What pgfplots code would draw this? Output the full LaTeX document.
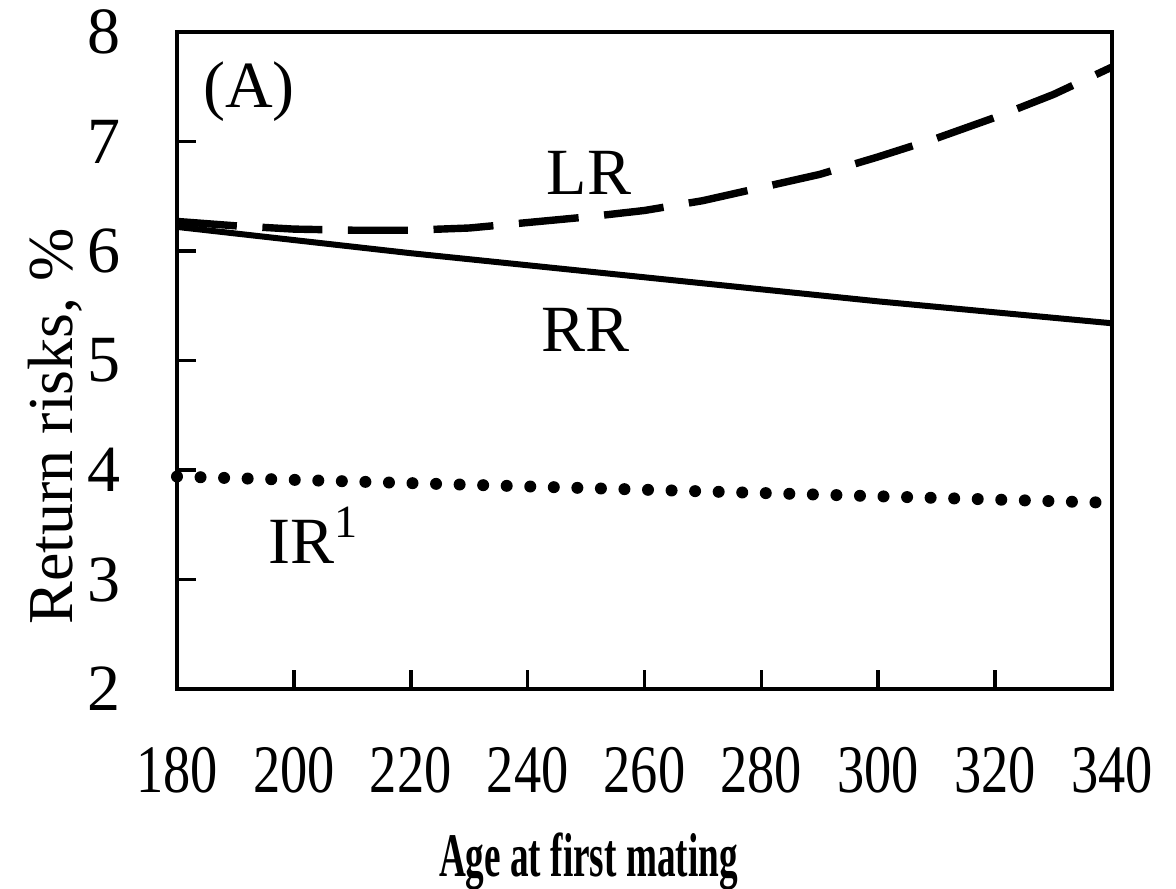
\documentclass[border=0pt]{standalone}
\usepackage{fontspec}
\setmainfont{Liberation Serif}
\newfontfamily\tickfont[FakeStretch=0.8]{Liberation Serif}
\newfontfamily\titlefont[FakeStretch=0.6]{Liberation Serif}
\usepackage{pgfplots}
\usepackage{pgfplotstable}
\pgfplotsset{compat=1.18}

% Return risks (%) against age at first mating (days)
\pgfplotstableread{
age  lr
180  6.27
190  6.23
200  6.20
210  6.19
220  6.19
230  6.21
240  6.26
250  6.31
260  6.37
270  6.46
280  6.58
290  6.70
300  6.86
310  7.03
320  7.22
330  7.43
340  7.68
}\lrdata

\pgfplotstableread{
age  rr
180  6.22
200  6.10
220  5.98
240  5.87
260  5.76
280  5.65
300  5.54
320  5.44
340  5.34
}\rrdata

\pgfplotstableread{
age  ir
180  3.94
340  3.70
}\irdata

\newcommand\lab{\fontsize{16.5}{18}\selectfont}

\begin{document}
\begin{tikzpicture}
\begin{axis}[
  scale only axis,
  width=233.75pt, height=164.25pt,
  xmin=180, xmax=340, ymin=2, ymax=8,
  xtick={180,200,...,340}, ytick={2,3,...,8},
  xtick pos=bottom, ytick pos=left, tick align=inside,
  major tick length=4.75pt,
  axis line style={line width=0.9pt},
  tick style={line width=0.9pt, black},
  /pgf/number format/assume math mode=true,
  /pgf/number format/1000 sep={},
  xticklabel style={font=\tickfont\fontsize{17}{17}\selectfont, anchor=center, yshift=-20.25pt},
  yticklabel style={font=\fontsize{16.5}{16.5}\selectfont, anchor=east, inner sep=0pt, xshift=-14pt},
  ylabel={Return risks, \%},
  ylabel style={font=\fontsize{16}{16}\selectfont, at={(axis description cs:-0.13,0.40)}, anchor=center},
  xlabel={Age at first mating},
  xlabel style={font=\titlefont\bfseries\fontsize{15.5}{15.5}\selectfont, at={(axis description cs:0.44,-0.262)}, anchor=center},
  clip=false,
]
\addplot[black, line width=1.85pt, dash pattern=on 15pt off 6.4pt] table[x=age, y=lr] {\lrdata};
\addplot[black, line width=1.5pt] table[x=age, y=rr] {\rrdata};
\addplot[black, line width=3pt, line cap=round, dash pattern=on 0pt off 5.89pt] table[x=age, y=ir] {\irdata};

\node[font=\lab] at (axis cs:192.3,7.46) {(A)};
\node[font=\lab] at (axis cs:250.5,6.71) {LR};
\node[font=\lab] at (axis cs:249.9,5.28) {RR};
\node[font=\lab, anchor=base west, inner sep=0pt] at (axis cs:195.6,3.15) {IR\textsuperscript{1}};

\coordinate (o) at (rel axis cs:0,0);
\end{axis}
\pgfresetboundingbox
\path[use as bounding box] (o) ++(-44.25pt,-49.75pt) rectangle ++(294pt,222pt);
\end{tikzpicture}
\end{document}
